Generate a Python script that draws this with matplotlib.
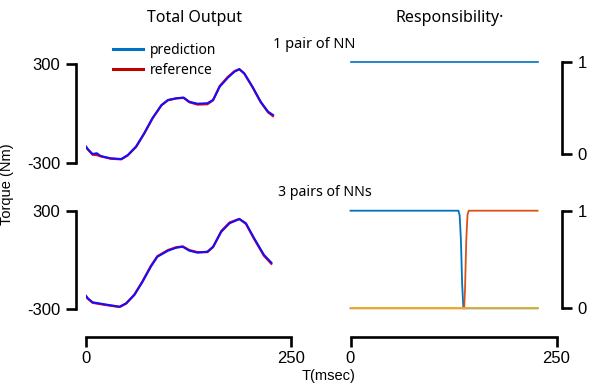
import numpy as np
import matplotlib
matplotlib.use("Agg")
import matplotlib.pyplot as plt
from matplotlib.lines import Line2D

# total output, 1 pair of NN
t_top = [0, 2, 8, 13, 18, 30, 43, 51, 61, 71, 81, 92, 100, 110, 119, 126, 136,
         148, 155, 163, 173, 181, 187, 193, 203, 213, 222, 228]
pred_top = [-199, -213, -244, -239, -256, -270, -274, -250, -199, -118, -27, 53,
            84, 94, 98, 73, 61, 64, 84, 164, 219, 255, 270, 245, 164, 73, 13, -7]
ref_top = [-201, -215, -248, -250, -258, -272, -276, -252, -201, -120, -29, 51,
           82, 93, 97, 70, 56, 58, 82, 168, 224, 258, 271, 244, 162, 71, 9, -14]

# total output, 3 pairs of NNs
t_bot = [0, 2, 8, 22, 41, 49, 59, 69, 79, 87, 100, 110, 118, 126, 136, 148, 155,
         165, 175, 187, 195, 205, 217, 226]
pred_bot = [-220, -234, -259, -271, -286, -265, -214, -133, -42, 19, 56, 74, 80,
            56, 44, 50, 80, 172, 223, 249, 223, 132, 30, -17]
ref_bot = [-222, -236, -262, -274, -288, -267, -212, -130, -38, 22, 60, 77, 82,
           60, 47, 47, 78, 176, 228, 250, 220, 128, 25, -24]

# responsibility signals
t_r1 = [0, 227]
resp1 = [1, 1]
t_blue = [0, 131, 132.5, 134, 135.5, 137, 227]
resp_blue = [1, 1, 0.95, 0.7, 0.25, 0, 0]
t_orange = [0, 138, 139, 140.5, 142, 143.5, 227]
resp_orange = [0, 0, 0.2, 0.7, 0.96, 1, 1]
t_yellow = [0, 227]
resp_yellow = [0, 0]

plt.rcParams["font.family"] = "Liberation Sans"
plt.rcParams["axes.unicode_minus"] = False

W, H = 598, 389
fig = plt.figure(figsize=(W / 100, H / 100), dpi=100)

ui = "Noto Sans"


def px_axes(x0, x1, ytop, ybot):
    return fig.add_axes([x0 / W, 1 - ybot / H, (x1 - x0) / W, (ybot - ytop) / H])


def style(ax, side, show_x):
    for s in ["top", "right", "left", "bottom"]:
        ax.spines[s].set_visible(False)
    ax.spines[side].set_visible(True)
    ax.spines[side].set_linewidth(1.9)
    ax.spines[side].set_position(("outward", 7.5 if side == "left" else 4))
    ax.yaxis.set_ticks_position(side)
    ax.tick_params(axis="y", length=7, width=1.9, pad=4, labelsize=12)
    if show_x:
        ax.spines["bottom"].set_visible(True)
        ax.spines["bottom"].set_linewidth(1.9)
        ax.spines["bottom"].set_position(("outward", 20.5))
        ax.set_xticks([0, 250])
        ax.tick_params(axis="x", length=7, width=1.9, pad=3, labelsize=12)
    else:
        ax.set_xticks([])
    ax.set_xlim(0, 250)
    ax.patch.set_alpha(0)


ax1 = px_axes(86, 291, 64.3, 163.3)
ax2 = px_axes(86, 291, 210.7, 309)
ax3 = px_axes(350.5, 556.5, 61.7, 154)
ax4 = px_axes(350.5, 556.5, 210.7, 308.3)

for ax, t, p, r in [(ax1, t_top, pred_top, ref_top), (ax2, t_bot, pred_bot, ref_bot)]:
    ax.plot(t, r, color="#FF0000", lw=1.6)
    ax.plot(t, p, color="#1010FF", lw=1.5)
    ax.set_ylim(-300, 300)
    ax.set_yticks([-300, 300])

ax3.plot(t_r1, resp1, color="#0072BD", lw=1.2, clip_on=False)
ax4.plot(t_blue, resp_blue, color="#0072BD", lw=1.3, clip_on=False)
ax4.plot(t_orange, resp_orange, color="#D95319", lw=1.3, clip_on=False)
ax4.plot(t_yellow, resp_yellow, color="#EDB120", lw=1.3, clip_on=False)
for ax in (ax3, ax4):
    ax.set_ylim(0, 1)
    ax.set_yticks([0, 1])

style(ax1, "left", False)
style(ax2, "left", True)
style(ax3, "right", False)
style(ax4, "right", True)

fig.text(194.7 / W, 1 - 18 / H, "Total Output", family=ui, fontsize=11.5,
         ha="center", va="center")
fig.text(449.8 / W, 1 - 18.5 / H, "Responsibility·", family=ui, fontsize=11.5,
         ha="center", va="center")
fig.text(314.5 / W, 1 - 45 / H, "1 pair of NN", family=ui, fontsize=10.5,
         ha="center", va="center")
fig.text(324.5 / W, 1 - 193 / H, "3 pairs of NNs", family=ui, fontsize=10.2,
         ha="center", va="center")
fig.text(328.5 / W, 1 - 376 / H, "T(msec)", fontsize=10.5,
         ha="center", va="center")
fig.text(7.5 / W, 1 - 184 / H, "Torque (Nm)", fontsize=10.5,
         ha="center", va="center", rotation=90)

handles = [Line2D([], [], color="#0070C0", lw=2.2),
           Line2D([], [], color="#C00000", lw=2.2)]
fig.legend(handles, ["prediction", "reference"], loc="upper left",
           bbox_to_anchor=(112.7 / W, 1 - 42.5 / H), frameon=False, borderpad=0,
           borderaxespad=0, handlelength=2.2, handletextpad=0.5, labelspacing=0.38,
           prop=dict(family=ui, size=10))

fig.savefig("out.png", dpi=100)
